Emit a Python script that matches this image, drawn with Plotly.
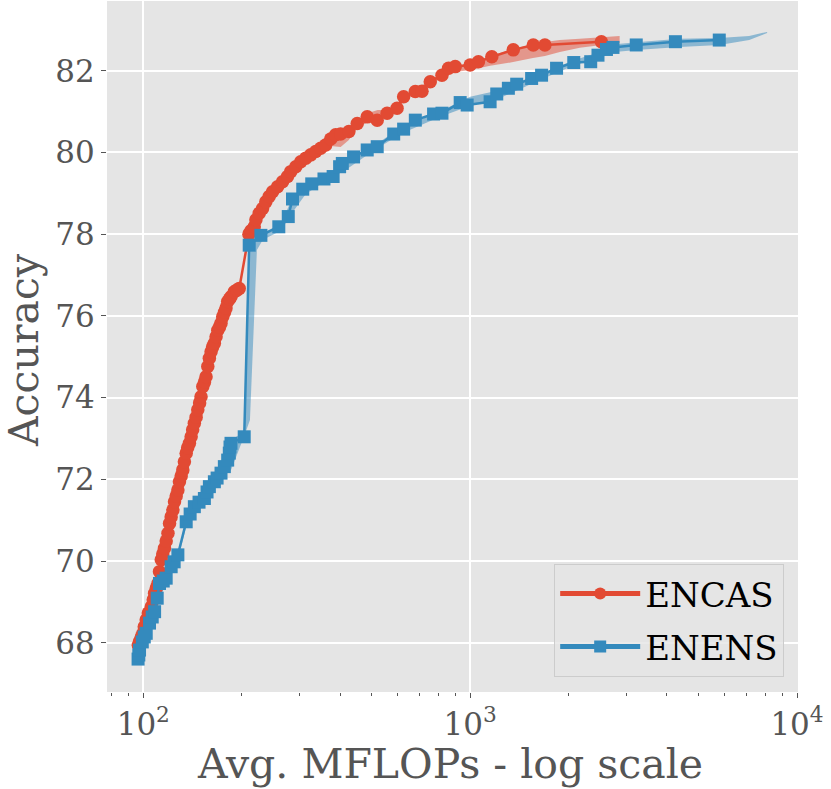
import plotly.graph_objects as go

# ---------------- data (MFLOPs, accuracy) ----------------
encas_mflops = [96.6, 97.4, 98.6, 99.8, 100.7, 102.1, 103.6, 105.8, 107.3, 108.3, 109.6, 110.9,
                112.1, 113.5, 114.7, 116.1, 117.5, 119.0, 120.3, 121.7, 123.2, 124.6, 126.1, 127.6,
                129.0, 130.6, 132.1, 133.6, 135.3, 136.7, 138.4, 140.1, 141.6, 143.3, 145.1, 146.8,
                148.7, 150.2, 152.1, 153.9, 155.6, 157.5, 159.3, 161.2, 162.9, 165.0, 167.0, 169.0,
                171.1, 172.9, 175.0, 177.2, 179.1, 181.2, 183.5, 185.5, 189.8, 193.4, 196.6,
                210.5, 213.5, 218.5, 221.1, 226.3, 231.7, 237.1, 242.7, 248.6, 257.5, 266.7, 276.2,
                282.6, 292.8, 303.2, 314.1, 325.3, 336.9, 348.9, 361.4, 374.4, 387.7, 401.6, 425.6,
                451.4, 484.3, 519.6, 557.2, 597.6, 625.9, 679.6, 712.3, 755.1, 819.9, 858.8, 900.2,
                1000, 1060, 1165, 1355, 1560, 1693, 2520]
encas_acc = [67.94, 68.03, 68.14, 68.23, 68.39, 68.56, 68.73, 68.88, 69.05, 69.21, 69.34, 69.45,
             69.74, 70.03, 70.17, 70.31, 70.49, 70.68, 70.92, 71.08, 71.25, 71.45, 71.59, 71.74,
             71.94, 72.08, 72.23, 72.43, 72.64, 72.77, 72.88, 73.04, 73.21, 73.37, 73.52, 73.70,
             73.87, 74.02, 74.27, 74.38, 74.51, 74.76, 74.96, 75.12, 75.24, 75.33, 75.49, 75.65,
             75.73, 75.82, 75.98, 76.09, 76.19, 76.35, 76.41, 76.47, 76.59, 76.63, 76.67,
             78.00, 78.08, 78.18, 78.35, 78.51, 78.63, 78.79, 78.92, 79.04, 79.16, 79.28, 79.41,
             79.53, 79.65, 79.77, 79.86, 79.94, 80.02, 80.10, 80.18, 80.33, 80.43, 80.45, 80.51,
             80.71, 80.87, 80.79, 80.96, 81.08, 81.36, 81.49, 81.50, 81.73, 81.89, 82.06, 82.10,
             82.14, 82.22, 82.34, 82.51, 82.63, 82.63, 82.71]

enens_mflops = [96.4, 96.9, 97.4, 99.3, 100.7, 102.1, 104.5, 106.5, 108.3, 110.3, 112.1, 115.1,
                117.5, 121.7, 124.3, 127.6, 135.3, 139.1, 143.3, 148.1, 153.8, 156.7, 159.3, 165.0,
                168.2, 172.9, 177.0, 181.2, 183.3, 184.2, 185.5, 203.6,
                210.9, 229.0, 259.8, 277.7, 286.1, 307.5, 327.6, 357.1, 380.9, 398.7, 406.3, 439.9,
                484.3, 519.6, 583.6, 625.9, 679.6, 772.9, 819.9, 932.2, 979.2, 1151, 1206, 1309,
                1388, 1542, 1654, 1838, 2075, 2338, 2461, 2612, 2735, 3222, 4246, 5783]
enens_acc = [67.60, 67.70, 67.82, 68.02, 68.14, 68.23, 68.48, 68.63, 68.76, 69.09, 69.45, 69.51,
             69.58, 69.86, 69.98, 70.15, 70.96, 71.15, 71.33, 71.44, 71.53, 71.69, 71.82, 71.94,
             72.03, 72.15, 72.31, 72.47, 72.64, 72.79, 72.88, 73.04,
             77.73, 77.97, 78.18, 78.43, 78.86, 79.10, 79.23, 79.35, 79.41, 79.65, 79.73, 79.89,
             80.06, 80.14, 80.45, 80.57, 80.79, 80.94, 80.96, 81.22, 81.16, 81.24, 81.43, 81.57,
             81.67, 81.81, 81.89, 82.06, 82.20, 82.22, 82.38, 82.52, 82.57, 82.63, 82.71, 82.75]

# spread bands (min / max over runs)
encas_band_mflops = [374.4, 401.6, 424.6, 452.3, 485.3, 521.2, 558.5, 598.9, 624.7, 679.6, 755.1,
                     821.5, 900.2, 1000, 1151, 1353, 1556, 1693, 1881, 2165, 2526, 2866]
encas_band_hi = [80.33, 80.48, 80.55, 80.74, 80.96, 81.04, 81.04, 81.19, 81.38, 81.53, 81.77,
                 81.92, 82.12, 82.19, 82.36, 82.53, 82.65, 82.70, 82.75, 82.78, 82.82, 82.85]
encas_band_lo = [80.16, 80.13, 80.30, 80.60, 80.74, 80.72, 80.89, 80.99, 81.28, 81.43, 81.67,
                 81.82, 81.97, 82.02, 82.12, 82.21, 82.31, 82.36, 82.46, 82.56, 82.63, 82.68]

enens_band_mflops = [96.6, 105.8, 117.5, 127.9, 135.3, 143.1, 158.9, 172.9, 185.5, 203.2, 212.0,
                     222.6, 232.2, 263.4, 286.7, 314.1, 361.4, 415.7, 495.6, 611.7, 810.1, 1000,
                     1235, 1635, 2090, 2491, 2768, 3298, 4369, 5783, 7140, 8100]
enens_band_hi = [67.68, 68.63, 69.63, 70.22, 71.03, 71.40, 71.86, 72.23, 72.96, 73.16, 77.78,
                 77.95, 78.03, 78.25, 78.91, 79.15, 79.42, 79.77, 80.11, 80.60, 81.01, 81.36,
                 81.53, 81.92, 82.26, 82.46, 82.65, 82.70, 82.78, 82.80, 82.85, 82.95]
enens_band_lo = [67.53, 68.43, 69.51, 70.07, 70.83, 71.15, 71.74, 72.06, 72.23, 73.04, 73.45,
                 77.61, 77.86, 78.08, 78.54, 78.98, 79.30, 79.57, 79.99, 80.45, 80.87, 81.14,
                 81.33, 81.77, 82.14, 82.31, 82.46, 82.51, 82.58, 82.63, 82.75, 82.92]

series_names = ["ENCAS", "ENENS"]
x_title = "Avg. MFLOPs - log scale"
y_title = "Accuracy"
RED = "#E24A33"
BLUE = "#348ABD"
FONT = "DejaVu Serif"

fig = go.Figure()

def band(xs, lo, hi, color):
    return go.Scatter(x=xs + xs[::-1], y=hi + lo[::-1], fill="toself", mode="none",
                      fillcolor=color, hoverinfo="skip", showlegend=False)

fig.add_trace(band(encas_band_mflops, encas_band_lo, encas_band_hi, "rgba(226,74,51,0.5)"))
fig.add_trace(band(enens_band_mflops, enens_band_lo, enens_band_hi, "rgba(52,138,189,0.5)"))

fig.add_trace(go.Scatter(x=encas_mflops, y=encas_acc, name=series_names[0], mode="lines+markers",
                         legendgroup="a",
                         line=dict(color=RED, width=2.5),
                         marker=dict(symbol="circle", size=13.5, color=RED)))
fig.add_trace(go.Scatter(x=enens_mflops, y=enens_acc, name=series_names[1], mode="lines+markers",
                         legendgroup="b",
                         line=dict(color=BLUE, width=2.5),
                         marker=dict(symbol="square", size=13, color=BLUE)))

fig.update_layout(
    width=831, height=789,
    margin=dict(l=107, r=33, t=1, b=97),
    paper_bgcolor="white", plot_bgcolor="#E5E5E5",
    font=dict(family=FONT, color="#555555"),
    legend=dict(x=0.98, y=0.022, xanchor="right", yanchor="bottom",
                bgcolor="rgba(229,229,229,0.8)", bordercolor="#CCCCCC", borderwidth=1,
                font=dict(family=FONT, size=34, color="black"),
                itemwidth=80, itemsizing="constant", tracegroupgap=6),
    annotations=[
        dict(text=x_title, xref="paper", yref="paper", x=0.4957, y=-0.104,
             xanchor="center", yanchor="middle", showarrow=False,
             font=dict(family=FONT, size=41, color="#555555")),
        dict(text=y_title, xref="paper", yref="paper", x=-0.120, y=0.495, textangle=-90,
             xanchor="center", yanchor="middle", showarrow=False,
             font=dict(family=FONT, size=41, color="#555555")),
    ],
)
fig.update_xaxes(type="log", range=[1.889, 4.003],
                 tickvals=[100, 1000, 10000], ticktext=["10<sup>2</sup>", "10<sup>3</sup>", "10<sup>4</sup>"],
                 showgrid=True, gridcolor="white", gridwidth=1.6, zeroline=False,
                 ticks="outside", ticklen=5, tickcolor="#555555", tickwidth=1,
                 tickfont=dict(family=FONT, size=31, color="#555555"),
                 minor=dict(ticks="outside", ticklen=3, tickcolor="#555555",
                            tickvals=[80, 90, 200, 300, 400, 500, 600, 700, 800, 900,
                                      2000, 3000, 4000, 5000, 6000, 7000, 8000, 9000],
                            showgrid=False),
                 showline=False)
fig.update_yaxes(range=[66.794, 83.706], tickvals=[68, 70, 72, 74, 76, 78, 80, 82],
                 showgrid=True, gridcolor="white", gridwidth=1.6, zeroline=False,
                 ticks="outside", ticklen=5, tickcolor="#555555", tickwidth=1,
                 tickfont=dict(family=FONT, size=31, color="#555555"),
                 showline=False)

fig.write_html("out.html", config={"displayModeBar": False},
               post_script="document.body.style.margin='0';")
